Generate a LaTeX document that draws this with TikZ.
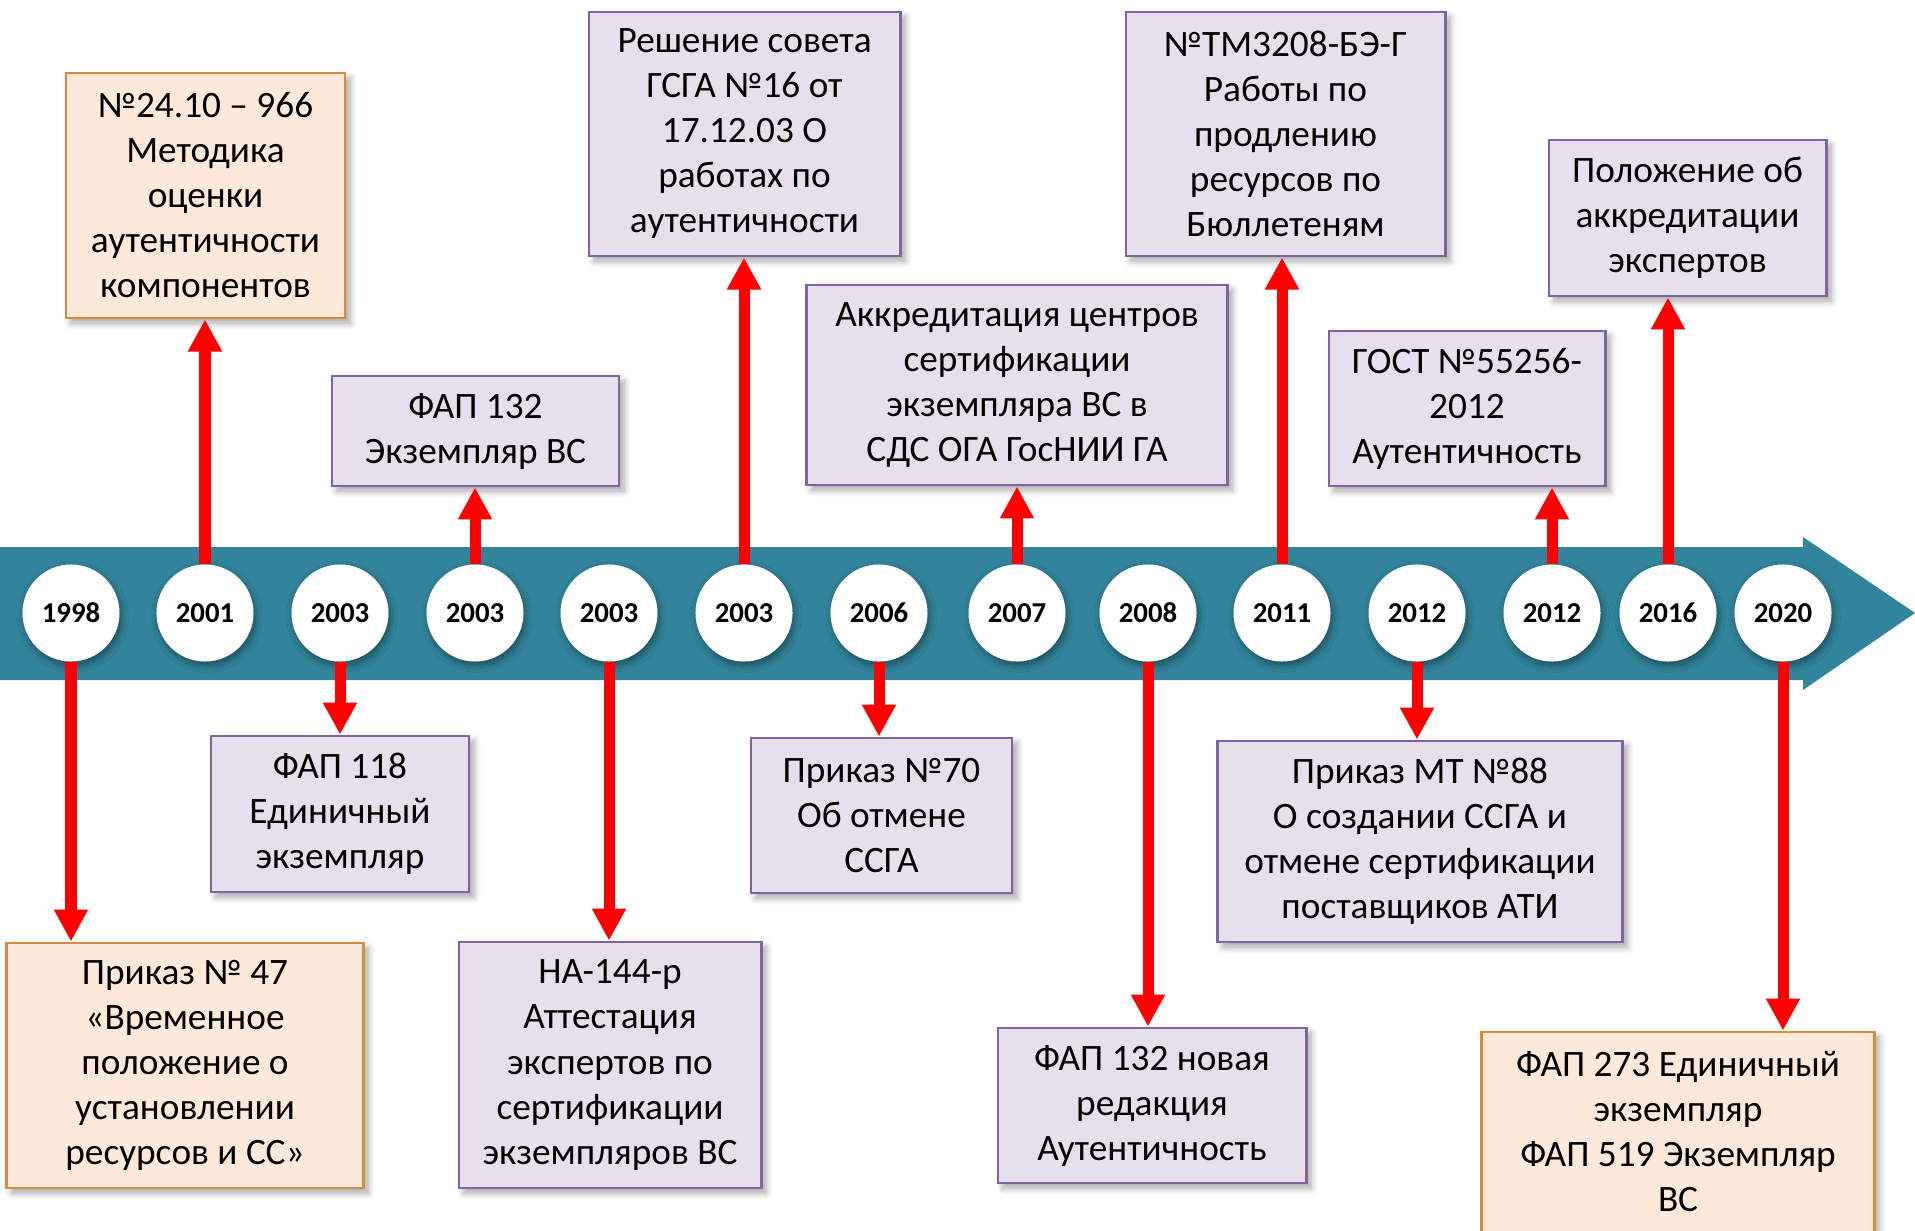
\documentclass[tikz,border=0pt]{standalone}
\usepackage{fontspec}
\setmainfont{Carlito}
\usetikzlibrary{arrows.meta,shadows.blur}

\definecolor{bandteal}{HTML}{31849B}
\definecolor{lavfill}{HTML}{E5E0EC}
\definecolor{lavline}{HTML}{8064A2}
\definecolor{peachfill}{HTML}{FDE9D9}
\definecolor{peachline}{HTML}{D98A3A}

\tikzset{
  evbox/.style={inner sep=0pt,align=center,line width=0.8pt,
    font=\fontsize{10.6}{12.8}\selectfont,
    blur shadow={shadow xshift=0.05cm,shadow yshift=-0.05cm,shadow opacity=35,shadow blur steps=6}},
  lbox/.style={evbox,draw=lavline,fill=lavfill},
  pbox/.style={evbox,draw=peachline,fill=peachfill},
  yearc/.style={circle,fill=white,minimum size=0.97cm,inner sep=0pt,
    font=\bfseries\fontsize{8.2}{10}\selectfont,
    blur shadow={shadow xshift=0.02cm,shadow yshift=-0.04cm,shadow opacity=40,shadow blur steps=5}},
  redarr/.style={draw=red,line width=0.11cm,-{Triangle[width=0.32cm,length=0.32cm]}}
}

\begin{document}
\begin{tikzpicture}[x=0.01cm,y=-0.01cm]
\useasboundingbox (0,0) rectangle (1915,1230);

% time band
\fill[bandteal] (0,547) -- (1803,547) -- (1803,537) -- (1915,613) -- (1803,690) -- (1803,680) -- (0,680) -- cycle;

% years
\foreach \x/\yr/\nm in {71/1998/y98,205/2001/y01,340/2003/y03a,475/2003/y03b,609/2003/y03c,744/2003/y03d,879/2006/y06,
  1017/2007/y07,1148/2008/y08,1282/2011/y11,1417/2012/y12a,1552/2012/y12b,1668/2016/y16,1783/2020/y20}
  \node[yearc] (\nm) at (\x,613) {\yr};

% events above
\node[pbox,minimum width=2.79cm,minimum height=2.45cm] (b01) at (205.5,195.5) {№24.10 – 966\\Методика\\оценки\\аутентичности\\компонентов};
\node[lbox,minimum width=2.87cm,minimum height=1.10cm] (b03b) at (475.5,431) {ФАП 132\\Экземпляр ВС};
\node[lbox,minimum width=3.11cm,minimum height=2.44cm] (b03d) at (744.5,134) {Решение совета\\ГСГА №16 от\\17.12.03 О\\работах по\\аутентичности};
\node[lbox,minimum width=4.20cm,minimum height=2.00cm] (b07) at (1017,385) {Аккредитация центров\\сертификации\\экземпляра ВС в\\СДС ОГА ГосНИИ ГА};
\node[lbox,minimum width=3.19cm,minimum height=2.44cm] (b11) at (1285.5,134) {№ТМ3208-БЭ-Г\\Работы по\\продлению\\ресурсов по\\Бюллетеням};
\node[lbox,minimum width=2.76cm,minimum height=1.55cm] (b12b) at (1467,408.5) {ГОСТ №55256-\\2012\\Аутентичность};
\node[lbox,minimum width=2.77cm,minimum height=1.56cm] (b16) at (1687.5,218) {Положение об\\аккредитации\\экспертов};

% events below
\node[pbox,minimum width=3.56cm,minimum height=2.45cm] (b98) at (185,1065.5) {Приказ № 47\\«Временное\\положение о\\установлении\\ресурсов и СС»};
\node[lbox,minimum width=2.58cm,minimum height=1.56cm] (b03a) at (340,814) {ФАП 118\\Единичный\\экземпляр};
\node[lbox,minimum width=3.02cm,minimum height=2.46cm] (b03c) at (610,1065) {НА-144-р\\Аттестация\\экспертов по\\сертификации\\экземпляров ВС};
\node[lbox,minimum width=2.61cm,minimum height=1.55cm] (b06) at (881.5,815.5) {Приказ №70\\Об отмене\\ССГА};
\node[lbox,minimum width=3.08cm,minimum height=1.55cm] (b08) at (1152,1105.5) {ФАП 132 новая\\редакция\\Аутентичность};
\node[lbox,minimum width=4.04cm,minimum height=2.01cm] (b12a) at (1420,841.5) {Приказ МТ №88\\О создании ССГА и\\отмене сертификации\\поставщиков АТИ};
\node[pbox,minimum width=3.92cm,minimum height=2.00cm] (b20) at (1678,1132) {ФАП 273 Единичный\\экземпляр\\ФАП 519 Экземпляр\\ВС};

% arrows
\draw[redarr] (y01.north) -- (y01.north |- b01.south);
\draw[redarr] (y03b.north) -- (y03b.north |- b03b.south);
\draw[redarr] (y03d.north) -- (y03d.north |- b03d.south);
\draw[redarr] (y07.north) -- (y07.north |- b07.south);
\draw[redarr] (y11.north) -- (y11.north |- b11.south);
\draw[redarr] (y12b.north) -- (y12b.north |- b12b.south);
\draw[redarr] (y16.north) -- (y16.north |- b16.south);
\draw[redarr] (y98.south) -- (y98.south |- b98.north);
\draw[redarr] (y03a.south) -- (y03a.south |- b03a.north);
\draw[redarr] (y03c.south) -- (y03c.south |- b03c.north);
\draw[redarr] (y06.south) -- (y06.south |- b06.north);
\draw[redarr] (y08.south) -- (y08.south |- b08.north);
\draw[redarr] (y12a.south) -- (y12a.south |- b12a.north);
\draw[redarr] (y20.south) -- (y20.south |- b20.north);
\end{tikzpicture}
\end{document}
